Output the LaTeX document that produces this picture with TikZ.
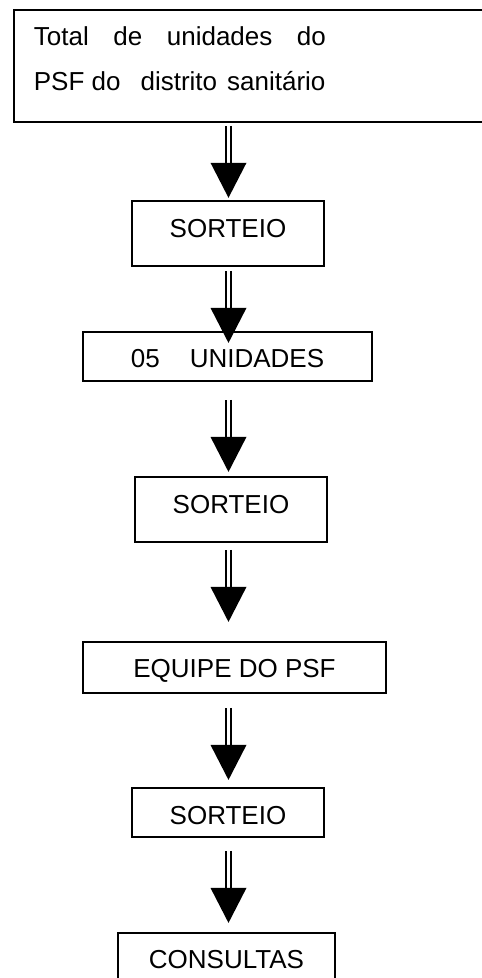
\documentclass[tikz,border=0pt]{standalone}
\usepackage{fontspec}
\setmainfont{Liberation Sans}
\usetikzlibrary{calc}
\tikzset{
  flowbox/.style={draw, line width=1.8pt, rectangle, inner sep=0pt, anchor=base,
    font=\fontsize{26pt}{30pt}\selectfont},
  topbox/.style={draw, line width=1.8pt, rectangle, anchor=north west,
    inner xsep=20pt, inner ysep=0pt, text height=36pt, text depth=76pt,
    font=\fontsize{26pt}{30pt}\selectfont},
  dbl/.style={double, line width=1.3pt, double distance=3.7pt},
  head/.style={fill=black}
}
\newcommand{\flowarr}[3]{%
  \draw[dbl] ($(#1.south -| ax)+(0,-#2)$) -- ++(0,-37pt) coordinate (#3);
  \fill[head] ($(#3)+(-18pt,0)$) -- ($(#3)+(18pt,0)$) -- ($(#3)+(0,-35pt)$) -- cycle;}
\begin{document}
\begin{tikzpicture}
\useasboundingbox (0,0) rectangle (482pt,-978pt);
\clip (0,0) rectangle (482pt,-978pt);
\coordinate (ax) at (228.5pt,0);

\node[topbox] (top) at (13pt,-9pt)
  {\makebox[470pt][l]{\vtop{\baselineskip=45pt
     \hbox{\makebox[292pt][s]{Total de unidades do}}
     \hbox{PSF do\hspace{20pt}distrito\hspace{10pt}sanitário}}}};

\node[flowbox, minimum width=192pt, text height=36pt, text depth=29pt] (s1) at (228pt,-237pt) {SORTEIO};
\node[flowbox, minimum width=289pt, text height=35pt, text depth=14pt] (u5) at (227.5pt,-367pt) {05\hspace{30pt}UNIDADES};
\node[flowbox, minimum width=192pt, text height=36pt, text depth=29pt] (s2) at (231pt,-513pt) {SORTEIO};
\node[flowbox, minimum width=303pt, text height=35pt, text depth=16pt] (eq) at (234.5pt,-677pt) {EQUIPE DO PSF};
\node[flowbox, minimum width=192pt, text height=36pt, text depth=13pt] (s3) at (228pt,-824pt) {SORTEIO};
\node[flowbox, minimum width=217pt, text height=35pt, text depth=40pt] (co) at (226.5pt,-968pt) {CONSULTAS};

\flowarr{top}{3pt}{a1}
\flowarr{s1}{4pt}{a2}
\flowarr{u5}{18pt}{a3}
\flowarr{s2}{7pt}{a4}
\flowarr{eq}{14pt}{a5}
\flowarr{s3}{13pt}{a6}
\end{tikzpicture}
\end{document}
